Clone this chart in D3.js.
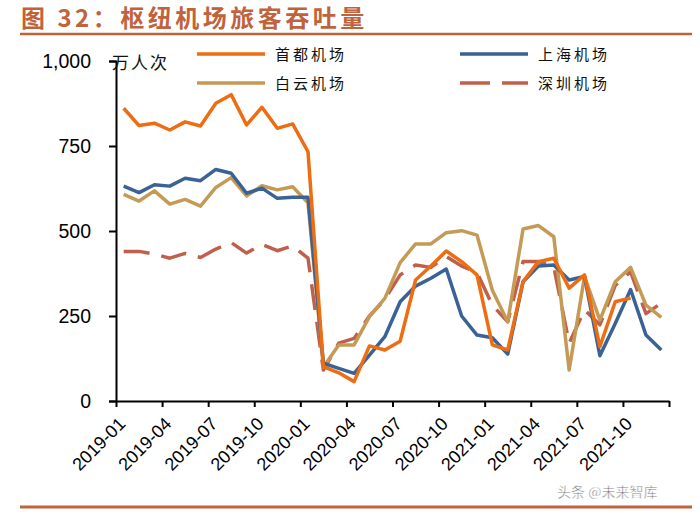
<!DOCTYPE html>
<html>
<head>
<meta charset="utf-8">
<script src="https://d3js.org/d3.v7.min.js"></script>
<style>
  body { margin: 0; background: #fff; }
  svg { display: block; }
</style>
</head>
<body>
<div id="chart"></div>
<script>
// months 2019-01 .. 2021-12
var months = [];
for (var yy = 2019; yy <= 2021; yy++) {
  for (var mm = 1; mm <= 12; mm++) months.push(yy + "-" + (mm < 10 ? "0" + mm : mm));
}
var tickLabels = ["2019-01","2019-04","2019-07","2019-10","2020-01","2020-04","2020-07","2020-10","2021-01","2021-04","2021-07","2021-10"];
var yTicks = [0, 250, 500, 750, 1000];

// 万人次
var capital  = [861,810,817,797,821,809,876,901,812,864,802,815,733,101,83,57,162,150,176,356,397,441,410,371,165,150,351,410,420,332,371,160,292,303,null,null];
var shanghai = [632,613,636,632,655,648,681,670,611,626,596,599,599,111,96,81,135,189,292,338,361,388,250,194,186,138,351,397,400,356,366,133,228,328,194,150];
var baiyun   = [608,588,618,579,593,573,628,657,603,633,621,630,583,100,165,165,248,302,407,462,462,495,501,488,326,233,506,516,483,91,366,238,351,393,282,246];
var shenzhen = [440,440,432,420,434,422,447,466,435,461,442,456,420,91,170,184,250,299,371,400,393,425,397,378,282,233,410,410,395,170,268,224,340,380,257,288];

var seriesNames = ["首都机场", "上海机场", "白云机场", "深圳机场"];

var w = 700, h = 512;
var svg = d3.select("#chart").append("svg").attr("width", w).attr("height", h);

var red = "#c0633d";

// title + rules
svg.append("text").attr("x", 21).attr("y", 27)
  .attr("fill", red).style("font-family", "'Noto Sans CJK SC'").style("font-weight", "bold")
  .style("font-size", "24px").style("letter-spacing", "3.5px")
  .text("图 32：枢纽机场旅客吞吐量");
svg.append("line").attr("x1", 20).attr("x2", 692).attr("y1", 34).attr("y2", 34)
  .attr("stroke", red).attr("stroke-width", 2.5);
svg.append("line").attr("x1", 20).attr("x2", 692).attr("y1", 507).attr("y2", 507)
  .attr("stroke", red).attr("stroke-width", 3);

// scales
var xi = d3.scaleLinear().domain([0, 36]).range([116, 669]);
var y = d3.scaleLinear().domain([0, 1000]).range([401, 61]);

// y axis
var yAxis = svg.append("g").attr("transform", "translate(116,0)")
  .call(d3.axisLeft(y).tickValues(yTicks).tickSize(7).tickPadding(18).tickFormat(d3.format(",")));
yAxis.select(".domain").attr("stroke", "#000").attr("stroke-width", 2);
yAxis.selectAll(".tick line").attr("stroke", "#000").attr("stroke-width", 2);
yAxis.selectAll("text").style("font-family", "'Liberation Sans', Arial").style("font-size", "19.5px").attr("fill", "#000");

// x axis
var xAxis = svg.append("g").attr("transform", "translate(0,401)")
  .call(d3.axisBottom(xi).tickValues(d3.range(0, 37, 3)).tickSize(6).tickSizeOuter(0)
    .tickFormat(function(d) { return d < 36 ? tickLabels[d / 3] : ""; }));
xAxis.select(".domain").attr("stroke", "#000").attr("stroke-width", 2);
xAxis.selectAll(".tick line").attr("stroke", "#000").attr("stroke-width", 2);
xAxis.selectAll("text")
  .style("font-family", "'Liberation Sans', Arial").style("font-size", "18px").attr("fill", "#000")
  .attr("text-anchor", "end").attr("dy", null).attr("y", 0)
  .attr("transform", "translate(10,24) rotate(-45)");

// unit
svg.append("text").attr("x", 112).attr("y", 69)
  .style("font-family", "'Noto Sans CJK SC'").style("font-size", "17px").style("letter-spacing", "2px")
  .attr("fill", "#111")
  .text("万人次");

// lines
var line = d3.line()
  .defined(function(d) { return d != null; })
  .x(function(d, i) { return xi(i + 0.5); })
  .y(function(d) { return y(d); });

var series = [
  { name: seriesNames[3], data: shenzhen, color: "#c0604a", dash: "26,12" },
  { name: seriesNames[2], data: baiyun, color: "#c49a55", dash: null },
  { name: seriesNames[1], data: shanghai, color: "#3a6296", dash: null },
  { name: seriesNames[0], data: capital, color: "#ec6d12", dash: null }
];

svg.selectAll("path.series").data(series).enter().append("path")
  .attr("class", "series")
  .attr("d", function(d) { return line(d.data); })
  .attr("fill", "none")
  .attr("stroke", function(d) { return d.color; })
  .attr("stroke-width", 3.5)
  .attr("stroke-linejoin", "round")
  .attr("stroke-dasharray", function(d) { return d.dash; });

// legend
var legend = [
  { s: series[3], x: 197, y: 54 },
  { s: series[2], x: 460, y: 54 },
  { s: series[1], x: 197, y: 83 },
  { s: series[0], x: 460, y: 83 }
];
var lg = svg.selectAll("g.legend").data(legend).enter().append("g").attr("class", "legend")
  .attr("transform", function(d) { return "translate(" + d.x + "," + d.y + ")"; });
lg.append("line").attr("x1", 0).attr("x2", 68).attr("y1", 0).attr("y2", 0)
  .attr("stroke", function(d) { return d.s.color; }).attr("stroke-width", 3.5)
  .attr("stroke-dasharray", function(d) { return d.s.dash ? "30,12" : null; });
lg.append("text").attr("x", 78).attr("y", 5.5)
  .style("font-family", "'Noto Sans CJK SC'").style("font-size", "15px").style("letter-spacing", "3px")
  .attr("fill", "#111")
  .text(function(d) { return d.s.name; });

// watermark
svg.append("text").attr("x", 557).attr("y", 497)
  .style("font-family", "'Noto Sans CJK SC'").style("font-size", "14px")
  .attr("fill", "#555").attr("stroke", "#fff").attr("stroke-width", 0.5)
  .text("头条 @未来智库");
</script>
</body>
</html>
